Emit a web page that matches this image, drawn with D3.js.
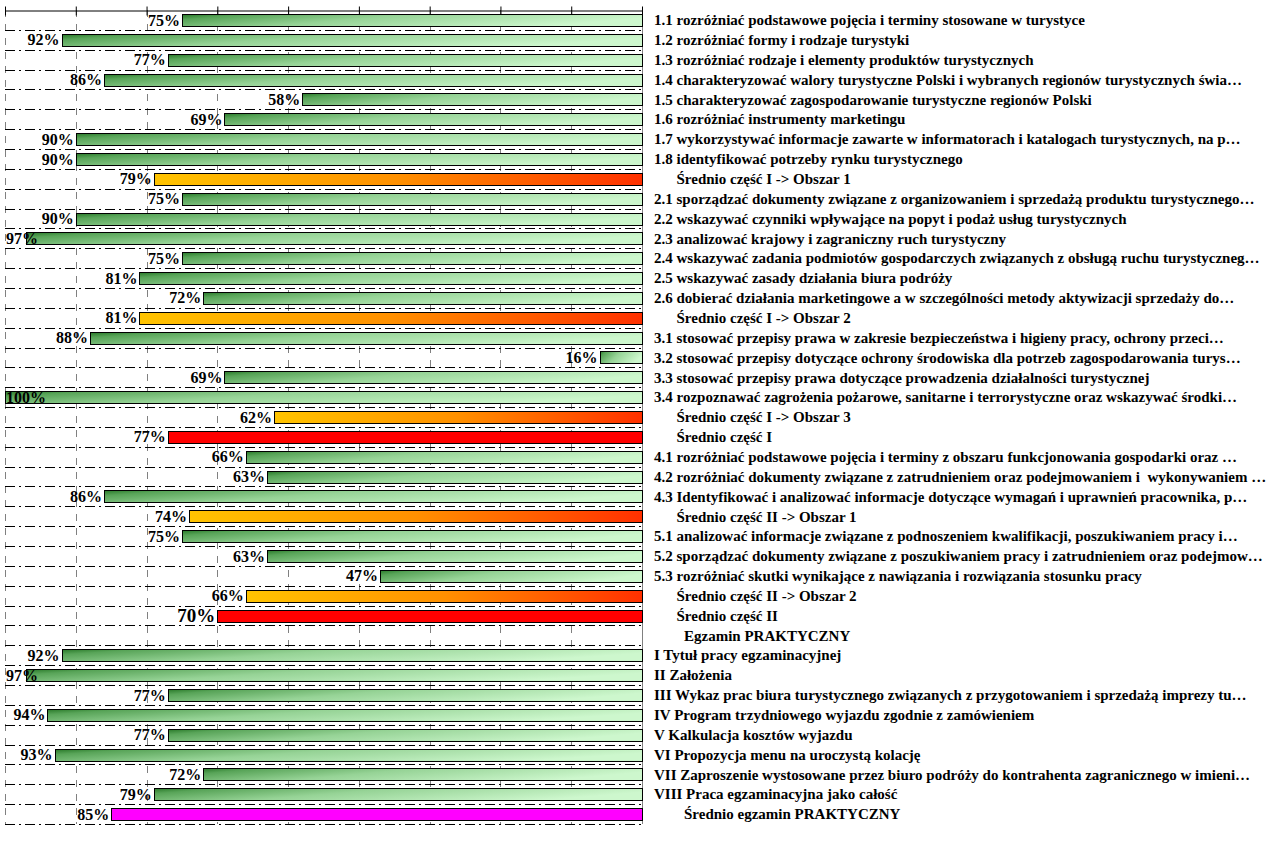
<!DOCTYPE html>
<html><head><meta charset="utf-8">
<script src="https://cdn.jsdelivr.net/npm/d3@7"></script>
<style>
body{margin:0;background:#fff;}
svg text{font-family:"Liberation Serif","Times New Roman",serif;font-weight:bold;white-space:pre;}
</style></head>
<body><svg id="c" width="1276" height="843"></svg>
<script>
const categories = [
"1.1 rozróżniać podstawowe pojęcia i terminy stosowane w turystyce",
"1.2 rozróżniać formy i rodzaje turystyki",
"1.3 rozróżniać rodzaje i elementy produktów turystycznych",
"1.4 charakteryzować walory turystyczne Polski i wybranych regionów turystycznych świa…",
"1.5 charakteryzować zagospodarowanie turystyczne regionów Polski",
"1.6 rozróżniać instrumenty marketingu",
"1.7 wykorzystywać informacje zawarte w informatorach i katalogach turystycznych, na p…",
"1.8 identyfikować potrzeby rynku turystycznego",
"      Średnio część I -> Obszar 1",
"2.1 sporządzać dokumenty związane z organizowaniem i sprzedażą produktu turystycznego…",
"2.2 wskazywać czynniki wpływające na popyt i podaż usług turystycznych",
"2.3 analizować krajowy i zagraniczny ruch turystyczny",
"2.4 wskazywać zadania podmiotów gospodarczych związanych z obsługą ruchu turystyczneg…",
"2.5 wskazywać zasady działania biura podróży",
"2.6 dobierać działania marketingowe a w szczególności metody aktywizacji sprzedaży do…",
"      Średnio część I -> Obszar 2",
"3.1 stosować przepisy prawa w zakresie bezpieczeństwa i higieny pracy, ochrony przeci…",
"3.2 stosować przepisy dotyczące ochrony środowiska dla potrzeb zagospodarowania turys…",
"3.3 stosować przepisy prawa dotyczące prowadzenia działalności turystycznej",
"3.4 rozpoznawać zagrożenia pożarowe, sanitarne i terrorystyczne oraz wskazywać środki…",
"      Średnio część I -> Obszar 3",
"      Średnio część I",
"4.1 rozróżniać podstawowe pojęcia i terminy z obszaru funkcjonowania gospodarki oraz …",
"4.2 rozróżniać dokumenty związane z zatrudnieniem oraz podejmowaniem i  wykonywaniem …",
"4.3 Identyfikować i analizować informacje dotyczące wymagań i uprawnień pracownika, p…",
"      Średnio część II -> Obszar 1",
"5.1 analizować informacje związane z podnoszeniem kwalifikacji, poszukiwaniem pracy i…",
"5.2 sporządzać dokumenty związane z poszukiwaniem pracy i zatrudnieniem oraz podejmow…",
"5.3 rozróżniać skutki wynikające z nawiązania i rozwiązania stosunku pracy",
"      Średnio część II -> Obszar 2",
"      Średnio część II",
"        Egzamin PRAKTYCZNY",
"I Tytuł pracy egzaminacyjnej",
"II Założenia",
"III Wykaz prac biura turystycznego związanych z przygotowaniem i sprzedażą imprezy tu…",
"IV Program trzydniowego wyjazdu zgodnie z zamówieniem",
"V Kalkulacja kosztów wyjazdu",
"VI Propozycja menu na uroczystą kolację",
"VII Zaproszenie wystosowane przez biuro podróży do kontrahenta zagranicznego w imieni…",
"VIII Praca egzaminacyjna jako całość",
"        Średnio egzamin PRAKTYCZNY"
];
const values = [75,92,77,86,58,69,90,90,79,75,90,97,75,81,72,81,88,16,69,100,62,77,66,63,86,74,75,63,47,66,70,null,92,97,77,94,77,93,72,79,85];
// g = green item, o = area average, r = part average, m = exam average, n = none
const kinds = ["g","g","g","g","g","g","g","g","o","g","g","g","g","g","g","o","g","g","g","g","o","r","g","g","g","o","g","g","g","o","r","n","g","g","g","g","g","g","g","g","m"];
const tickValues = [10,20,30,40,50,60,70,80,90,100];

(function(){
const svg = d3.select("#c");
const L = 5, R = 642, T = 10, B = 824;
const x = d3.scaleLinear().domain([100,10]).range([L,R]);
const y = d3.scaleBand().domain(d3.range(categories.length)).range([T,B]).paddingInner(0.4).paddingOuter(0.2);
const yFull = d3.scaleBand().domain(d3.range(categories.length)).range([T,B]);

const defs = svg.append("defs");
const gG = defs.append("linearGradient").attr("id","gGreen").attr("x1","0").attr("y1","0").attr("x2","1").attr("y2","0.3");
[[0,"#2a7a2a"],[0.12,"#58a458"],[0.45,"#96d396"],[1,"#cdf7cd"]].forEach(s=>gG.append("stop").attr("offset",s[0]).attr("stop-color",s[1]));
const gO = defs.append("linearGradient").attr("id","gOrange").attr("x1","0").attr("y1","0").attr("x2","1").attr("y2","0");
[[0,"#ffc400"],[0.5,"#ff9000"],[1,"#ff3000"]].forEach(s=>gO.append("stop").attr("offset",s[0]).attr("stop-color",s[1]));
const fills = {g:"url(#gGreen)",o:"url(#gOrange)",r:"#ff0000",m:"#ff00ff"};

svg.append("g").selectAll("line").data(tickValues.filter(v=>v!==10)).join("line")
  .attr("x1",d=>Math.round(x(d))+0.5).attr("x2",d=>Math.round(x(d))+0.5).attr("y1",T).attr("y2",B)
  .attr("stroke","#808080").attr("stroke-dasharray","7,7");

svg.append("g").selectAll("line").data(d3.range(1,categories.length+1)).join("line")
  .attr("x1",L).attr("x2",R)
  .attr("y1",d=>Math.round(yFull(d-1)+yFull.bandwidth())+0.5).attr("y2",d=>Math.round(yFull(d-1)+yFull.bandwidth())+0.5)
  .attr("stroke","#000").attr("stroke-dasharray","10,4,2,4");

svg.append("line").attr("x1",R+0.5).attr("x2",R+0.5).attr("y1",T).attr("y2",B).attr("stroke","#808080");

const ax = svg.append("g").attr("transform",`translate(0,${T+0.5})`)
  .call(d3.axisTop(x).tickValues(tickValues).tickFormat("").tickSizeInner(4).tickSizeOuter(0));
ax.select(".domain").attr("stroke","#000");
ax.selectAll(".tick line").attr("y1",5).attr("y2",-4).attr("stroke","#000");

const idx = d3.range(categories.length).filter(i=>values[i]!=null);
svg.append("g").selectAll("rect").data(idx).join("rect")
  .attr("x",i=>Math.round(x(values[i]))+0.5).attr("y",i=>Math.round(y(i))+0.5)
  .attr("width",i=>R-Math.round(x(values[i]))).attr("height",Math.round(y.bandwidth()))
  .attr("fill",i=>fills[kinds[i]]).attr("stroke","#000").attr("stroke-width",1);

const vl = svg.append("g").selectAll("text").data(idx).join("text")
  .attr("y",i=>y(i)+y.bandwidth()/2).attr("dy","0.35em")
  .attr("font-size",i=>i===30?19:16).attr("text-anchor","end").attr("fill","#000")
  .text(i=>values[i]+"%");
vl.each(function(i){
  const w=this.getComputedTextLength();
  const xr=Math.max(x(values[i])-2,L+1+w);
  d3.select(this).attr("x",xr);
});

svg.append("g").selectAll("text").data(d3.range(categories.length)).join("text")
  .attr("x",654).attr("y",i=>yFull(i)+yFull.bandwidth()/2).attr("dy","0.35em")
  .attr("font-size",15).attr("fill","#000")
  .text(i=>categories[i]);
})();
</script></body></html>
